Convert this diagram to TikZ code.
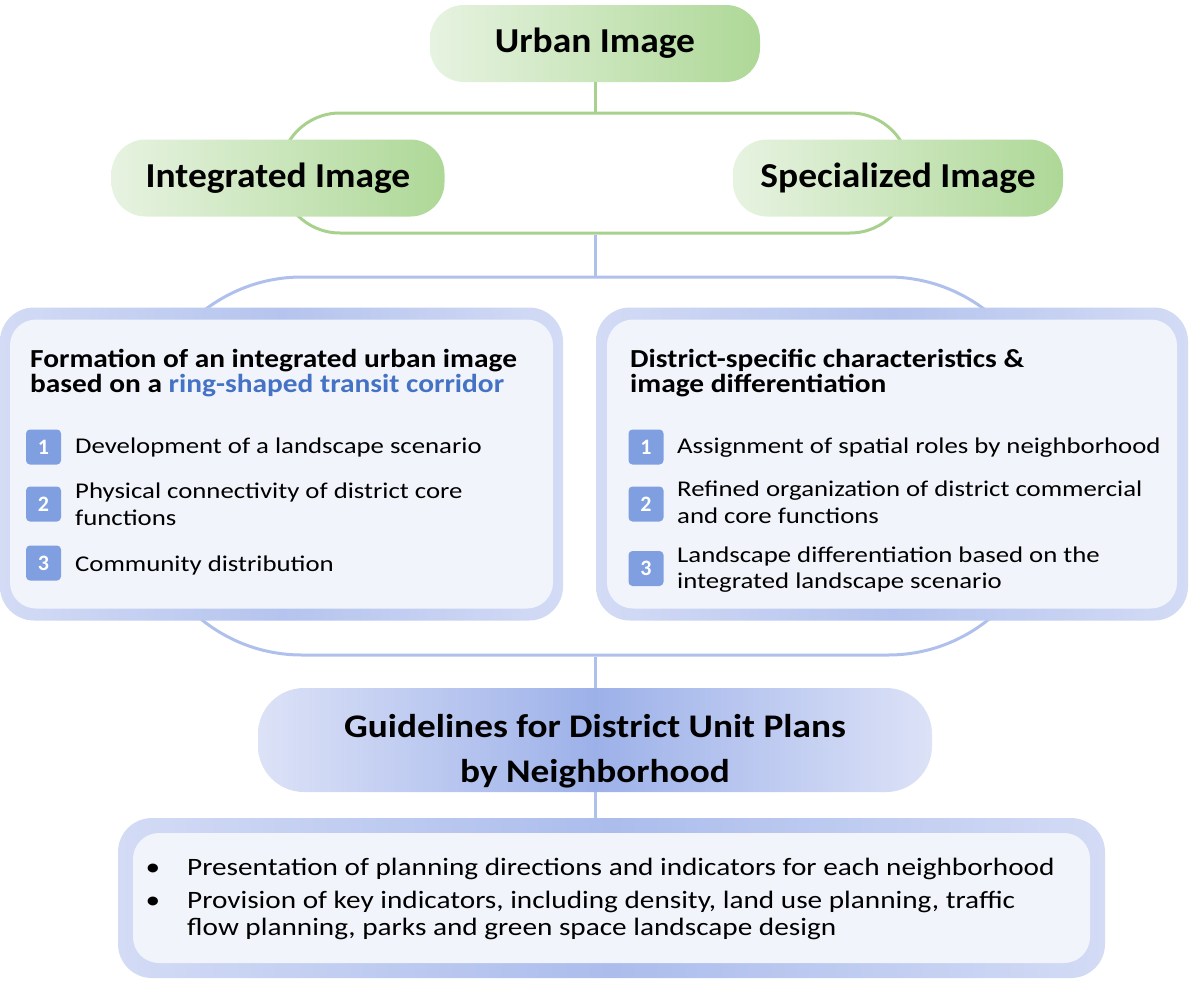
\documentclass[tikz,border=0pt]{standalone}
\usepackage{fontspec}
\setmainfont{Carlito}
\newfontfamily\pillfnt[FakeStretch=1.07]{Carlito}
\newfontfamily\titlefnt[FakeStretch=1.13]{Carlito}
\newfontfamily\itemfnt[FakeStretch=1.19]{Carlito}
\newfontfamily\listfnt[FakeStretch=1.17]{Carlito}
\newfontfamily\guidefnt[FakeStretch=1.13]{Carlito}

\definecolor{greenlt}{HTML}{E7F3E1}
\definecolor{greendk}{HTML}{AED897}
\definecolor{greenline}{HTML}{A9D18E}
\definecolor{blueline}{HTML}{B0C0EC}
\definecolor{framelt}{HTML}{D3DBF5}
\definecolor{framedk}{HTML}{B5C4EE}
\definecolor{panelfill}{HTML}{F2F4FC}
\definecolor{numblue}{HTML}{7F9FE0}
\definecolor{ringblue}{HTML}{4472C4}
\definecolor{guidelt}{HTML}{DCE2F7}
\definecolor{guidedk}{HTML}{9DB1E9}

\tikzset{
  pill/.style={rounded corners=34, minimum height=77, inner sep=0,
    font=\pillfnt\bfseries\fontsize{35}{40}\selectfont},
  greenpill/.style={pill, minimum width=330, left color=greenlt, right color=greendk},
  bracket/.style={draw, line width=3pt, rounded corners=#1, inner sep=0},
  frame/.style={rounded corners=34, inner sep=0, left color=framelt, right color=framelt, middle color=framedk},
  panel/.style={rounded corners=26, inner sep=0, fill=panelfill},
  numbox/.style={fill=numblue, rounded corners=4, minimum size=35, inner sep=0,
    text=white, font=\bfseries\fontsize{22}{22}\selectfont},
  boxtitle/.style={anchor=base west, inner sep=0, align=left, font=\titlefnt\bfseries\fontsize{26}{25}\selectfont},
  itemtxt/.style={anchor=base west, inner sep=0, align=left, font=\itemfnt\fontsize{22.5}{26.5}\selectfont},
  listtxt/.style={anchor=base west, inner sep=0, align=left, font=\listfnt\fontsize{25}{27}\selectfont},
  link/.style={line width=3pt}
}

\begin{document}
\begin{tikzpicture}[x=1pt,y=-1pt]
\useasboundingbox (0,0) rectangle (1191,980);
% brackets
\node[bracket=60, greenline, minimum width=630, minimum height=120] (gbracket) at (595,173) {};
\node[bracket=160, blueline, minimum width=906, minimum height=378] (bbracket) at (595,466) {};
% top
\node[greenpill] (urban) at (595,43.5) {Urban Image};
\node[greenpill, minimum width=333] (integ) at (278,178) {Integrated Image};
\node[greenpill] (spec) at (898,178) {Specialized Image};
% left box
\node[frame, minimum width=563, minimum height=313] (lframe) at (281.5,464) {};
\node[panel, minimum width=543, minimum height=289] (lpanel) at (281.5,464) {};
\node[boxtitle] (ltitle) at (30,392) {Formation of an integrated urban image\\based on a \textcolor{ringblue}{ring-shaped transit corridor}};
\node[numbox] (l1) at (43.5,447) {1};
\node[numbox] (l2) at (43.5,504) {2};
\node[numbox] (l3) at (43.5,563) {3};
\node[itemtxt] (l1t) at (75,453) {Development of a landscape scenario};
\node[itemtxt] (l2t) at (75,525) {Physical connectivity of district core\\functions};
\node[itemtxt] (l3t) at (75,571.5) {Community distribution};
% right box
\node[frame, minimum width=592, minimum height=313] (rframe) at (892,464) {};
\node[panel, minimum width=570, minimum height=289] (rpanel) at (892,464) {};
\node[boxtitle] (rtitle) at (630,392) {District-specific characteristics \&\\image differentiation};
\node[numbox] (r1) at (646,447) {1};
\node[numbox] (r2) at (646,504) {2};
\node[numbox] (r3) at (646,568.5) {3};
\node[itemtxt] (r1t) at (677,453) {Assignment of spatial roles by neighborhood};
\node[itemtxt] (r2t) at (677,523) {Refined organization of district commercial\\and core functions};
\node[itemtxt] (r3t) at (677,588.5) {Landscape differentiation based on the\\integrated landscape scenario};
% bottom
\node[pill, rounded corners=46, minimum width=674, minimum height=104, align=center,
  text height=94, text depth=10,
  left color=guidelt, right color=guidelt, middle color=guidedk,
  font=\guidefnt\bfseries\fontsize{33}{45}\selectfont] (guide) at (595,740) {Guidelines for District Unit Plans\\by Neighborhood};
\node[frame, minimum width=987, minimum height=160, middle color=guidedk!85] (bframe) at (611.5,898) {};
\node[panel, minimum width=957, minimum height=130] (bpanel) at (611.5,898) {};
\node[listtxt, anchor=base] (b1) at (153,875) {\textbullet};
\node[listtxt] (b1t) at (187,875) {Presentation of planning directions and indicators for each neighborhood};
\node[listtxt, anchor=base] (b2) at (153,908) {\textbullet};
\node[listtxt] (b2t) at (187,935) {Provision of key indicators, including density, land use planning, traffic\\flow planning, parks and green space landscape design};
% connections
\draw[link, greenline] (urban) -- (gbracket.north);
\draw[link, blueline] (gbracket.south) -- (bbracket.north);
\draw[link, blueline] (bbracket.south) -- (guide);
\draw[link, blueline] (guide) -- (bframe.north -| guide.south);
\end{tikzpicture}
\end{document}
